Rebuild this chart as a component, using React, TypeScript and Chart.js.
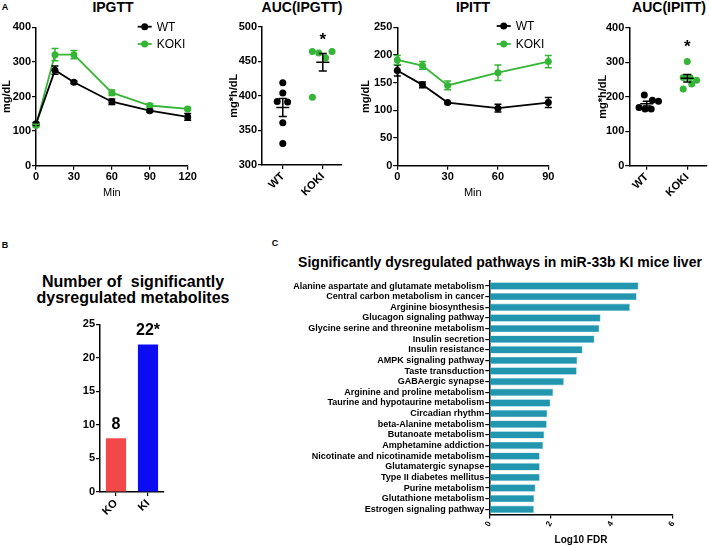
import React, { useEffect, useRef } from "react";
import { Chart, registerables } from "chart.js";
Chart.register(...registerables);

const FONT = '"Liberation Sans", Arial, Helvetica, sans-serif';
const BLACK = "#000000";
const GREEN = "#35b535";
const RED = "#f24848";
const BLUE = "#0c0cf2";
const TEAL = "#2196ae";

// ---------- Data ----------
const gttTimes = [0, 15, 30, 60, 90, 120];
const gttWT = [121, 276, 241, 185, 159, 141];
const gttWTErr = [4, 12, 4, 8, 4, 10];
const gttKOKI = [116, 321, 321, 211, 174, 164];
const gttKOKIErr = [4, 18, 12, 8, 5, 4];

const ittTimes = [0, 15, 30, 60, 90];
const ittWT = [172, 146, 114, 104, 114];
const ittWTErr = [10, 5, 2, 7, 9];
const ittKOKI = [191, 181, 145, 168, 188];
const ittKOKIErr = [8, 7, 8, 14, 11];

const groups = ["WT", "KOKI"];
const aucGttWT = [419, 404, 392, 391, 361, 331];
const aucGttWTJitter = [0, 0, -0.14, 0.12, 0, 0];
const aucGttKOKI = [464, 462, 455, 464, 398];
const aucGttKOKIJitter = [-0.26, -0.1, 0.07, 0.23, -0.26];
const aucIttWT = [205, 169, 164, 190, 187, 164];
const aucIttWTJitter = [-0.06, -0.19, -0.04, 0.14, 0.29, 0.11];
const aucIttKOKI = [302, 256, 256, 248, 237, 222];
const aucIttKOKIJitter = [0, -0.1, 0.07, 0.23, 0.11, -0.1];
const aucGttStar = 488;
const aucIttStar = 359;

const metCategories = ["KO", "KI"];
const metCounts = [8, 22];
const metSignificant = [false, true];

const pathways = [
  "Alanine aspartate and glutamate metabolism",
  "Central carbon metabolism in cancer",
  "Arginine biosynthesis",
  "Glucagon signaling pathway",
  "Glycine serine and threonine metabolism",
  "Insulin secretion",
  "Insulin resistance",
  "AMPK signaling pathway",
  "Taste transduction",
  "GABAergic synapse",
  "Arginine and proline metabolism",
  "Taurine and hypotaurine metabolism",
  "Circadian rhythm",
  "beta-Alanine metabolism",
  "Butanoate metabolism",
  "Amphetamine addiction",
  "Nicotinate and nicotinamide metabolism",
  "Glutamatergic synapse",
  "Type II diabetes mellitus",
  "Purine metabolism",
  "Glutathione metabolism",
  "Estrogen signaling pathway",
];
const log10FDR = [4.88, 4.82, 4.6, 3.64, 3.6, 3.44, 3.05, 2.88, 2.86, 2.44, 2.09, 2.0, 1.9, 1.88, 1.8, 1.76, 1.65, 1.65, 1.65, 1.51, 1.47, 1.46];

// ---------- Layout helper ----------
function frame(cl: number, ct: number, cr: number, cb: number, L: number, T: number, R: number, B: number) {
  return {
    box: { left: cl, top: ct, width: cr - cl, height: cb - ct },
    padding: { left: 0, top: T - ct, right: cr - R, bottom: 0 },
    yWidth: L - cl,
    xHeight: cb - B,
  };
}

const axisCommon = (size: number) => ({
  border: { display: true, color: BLACK, width: 1.5 },
  grid: { display: true, drawOnChartArea: false, drawTicks: true, tickLength: 4, color: BLACK, lineWidth: 1.2, offset: false },
});
const tickFont = (size: number) => ({ family: FONT, size, weight: "bold" as const });

// ---------- Plugins ----------
const errorBarPlugin = {
  id: "errorBars",
  afterDatasetsDraw(chart: any) {
    const ctx = chart.ctx;
    chart.data.datasets.forEach((ds: any, i: number) => {
      if (!ds.errors) return;
      const meta = chart.getDatasetMeta(i);
      const ys = chart.scales[meta.yAxisID];
      ctx.save();
      ctx.strokeStyle = ds.borderColor;
      ctx.lineWidth = 1.5;
      meta.data.forEach((el: any, j: number) => {
        const v = ds.data[j].y;
        const e = ds.errors[j];
        const y1 = ys.getPixelForValue(v + e);
        const y2 = ys.getPixelForValue(v - e);
        ctx.beginPath();
        ctx.moveTo(el.x, y1);
        ctx.lineTo(el.x, y2);
        ctx.moveTo(el.x - 3.5, y1);
        ctx.lineTo(el.x + 3.5, y1);
        ctx.moveTo(el.x - 3.5, y2);
        ctx.lineTo(el.x + 3.5, y2);
        ctx.stroke();
      });
      ctx.restore();
    });
  },
};

const inlineLegendPlugin = {
  id: "inlineLegend",
  afterDraw(chart: any, _a: any, opts: any) {
    const { ctx, chartArea } = chart;
    chart.data.datasets.forEach((ds: any, i: number) => {
      const x = chartArea.left + opts.dx;
      const y = chartArea.top + opts.dy + i * opts.rowGap;
      ctx.save();
      ctx.strokeStyle = ds.borderColor;
      ctx.lineWidth = 1.8;
      ctx.beginPath();
      ctx.moveTo(x, y);
      ctx.lineTo(x + 14, y);
      ctx.stroke();
      ctx.fillStyle = ds.borderColor;
      ctx.beginPath();
      ctx.arc(x + 7, y, 3.5, 0, Math.PI * 2);
      ctx.fill();
      ctx.fillStyle = BLACK;
      ctx.font = `12px ${FONT}`;
      ctx.textAlign = "left";
      ctx.textBaseline = "middle";
      ctx.fillText(ds.label, x + 19, y + 0.5);
      ctx.restore();
    });
  },
};

const meanSemPlugin = {
  id: "meanSem",
  afterDatasetsDraw(chart: any, _a: any, opts: any) {
    const { ctx } = chart;
    const xs = chart.scales.x;
    const ys = chart.scales.y;
    ctx.save();
    ctx.strokeStyle = BLACK;
    ctx.lineWidth = 1.5;
    chart.data.datasets.forEach((ds: any) => {
      const vals = ds.data.map((p: any) => p.y);
      const n = vals.length;
      const mean = vals.reduce((a: number, b: number) => a + b, 0) / n;
      const sd = Math.sqrt(vals.reduce((a: number, b: number) => a + (b - mean) ** 2, 0) / (n - 1));
      const sem = sd / Math.sqrt(n);
      const cx = xs.getPixelForValue(ds.group);
      const ym = ys.getPixelForValue(mean);
      const y1 = ys.getPixelForValue(mean + sem);
      const y2 = ys.getPixelForValue(mean - sem);
      ctx.beginPath();
      ctx.moveTo(cx - 6.5, ym);
      ctx.lineTo(cx + 6.5, ym);
      ctx.moveTo(cx, y1);
      ctx.lineTo(cx, y2);
      ctx.moveTo(cx - 4, y1);
      ctx.lineTo(cx + 4, y1);
      ctx.moveTo(cx - 4, y2);
      ctx.lineTo(cx + 4, y2);
      ctx.stroke();
    });
    if (opts && opts.star != null) {
      const size = 17;
      ctx.fillStyle = BLACK;
      ctx.font = `bold ${size}px ${FONT}`;
      ctx.textAlign = "center";
      ctx.textBaseline = "alphabetic";
      ctx.fillText("*", xs.getPixelForValue(opts.starGroup), ys.getPixelForValue(opts.star) + 0.58 * size);
    }
    ctx.restore();
  },
};

const barLabelPlugin = {
  id: "barLabels",
  afterDatasetsDraw(chart: any) {
    const { ctx } = chart;
    const meta = chart.getDatasetMeta(0);
    const ds = chart.data.datasets[0];
    ctx.save();
    ctx.fillStyle = BLACK;
    ctx.font = `bold 16px ${FONT}`;
    ctx.textAlign = "center";
    ctx.textBaseline = "alphabetic";
    meta.data.forEach((el: any, i: number) => {
      const txt = String(ds.data[i]) + (ds.significant[i] ? "*" : "");
      ctx.fillText(txt, el.x, el.y - 9);
    });
    ctx.restore();
  },
};

// ---------- Configs ----------
function lineConfig(f: any, times: number[], wt: number[], wtErr: number[], koki: number[], kokiErr: number[], xMax: number, yMax: number, yStep: number, legend: any) {
  const mk = (label: string, color: string, vals: number[], errs: number[]) => ({
    label,
    data: times.map((t, i) => ({ x: t, y: vals[i] })),
    errors: errs,
    borderColor: color,
    backgroundColor: color,
    pointBackgroundColor: color,
    pointBorderColor: color,
    pointRadius: 3.5,
    pointBorderWidth: 0,
    borderWidth: 1.8,
    tension: 0,
    clip: false,
  });
  return {
    type: "line",
    data: { datasets: [mk("WT", BLACK, wt, wtErr), mk("KOKI", GREEN, koki, kokiErr)] },
    options: {
      responsive: false,
      animation: false,
      layout: { padding: f.padding, autoPadding: false },
      plugins: { legend: { display: false }, tooltip: { enabled: false }, inlineLegend: legend },
      scales: {
        x: {
          type: "linear",
          min: 0,
          max: xMax,
          ...axisCommon(11),
          ticks: { stepSize: 30, color: BLACK, font: tickFont(11), padding: 1, maxRotation: 0 },
          title: { display: true, text: "Min", color: BLACK, font: { family: FONT, size: 11 }, padding: 0 },
          afterFit: (s: any) => { s.height = f.xHeight; },
        },
        y: {
          type: "linear",
          min: 0,
          max: yMax,
          ...axisCommon(11),
          ticks: { stepSize: yStep, color: BLACK, font: tickFont(11), padding: 1 },
          title: { display: true, text: "mg/dL", color: BLACK, font: tickFont(11), padding: 0 },
          afterFit: (s: any) => { s.width = f.yWidth; },
        },
      },
    },
    plugins: [errorBarPlugin, inlineLegendPlugin],
  };
}

function aucConfig(f: any, wt: number[], wtJ: number[], koki: number[], kokiJ: number[], yMin: number, yMax: number, yStep: number, xMin: number, xMax: number, star: number) {
  const mk = (label: string, color: string, group: number, vals: number[], jit: number[]) => ({
    label,
    group,
    data: vals.map((v, i) => ({ x: group + jit[i], y: v })),
    backgroundColor: color,
    borderColor: color,
    pointRadius: 3.5,
    pointBorderWidth: 0,
    clip: false,
  });
  return {
    type: "scatter",
    data: { datasets: [mk("WT", BLACK, 0, wt, wtJ), mk("KOKI", GREEN, 1, koki, kokiJ)] },
    options: {
      responsive: false,
      animation: false,
      layout: { padding: f.padding, autoPadding: false },
      plugins: { legend: { display: false }, tooltip: { enabled: false }, meanSem: { star, starGroup: 1 } },
      scales: {
        x: {
          type: "linear",
          min: xMin,
          max: xMax,
          ...axisCommon(11),
          afterBuildTicks: (s: any) => { s.ticks = groups.map((_, i) => ({ value: i })); },
          ticks: { color: BLACK, font: tickFont(11), padding: 1, minRotation: 45, maxRotation: 45, callback: (v: any) => groups[v] },
          afterFit: (s: any) => { s.height = f.xHeight; },
        },
        y: {
          type: "linear",
          min: yMin,
          max: yMax,
          ...axisCommon(11),
          ticks: { stepSize: yStep, color: BLACK, font: tickFont(11), padding: 1 },
          title: { display: true, text: "mg*h/dL", color: BLACK, font: tickFont(11), padding: 0 },
          afterFit: (s: any) => { s.width = f.yWidth; },
        },
      },
    },
    plugins: [meanSemPlugin],
  };
}

function metConfig(f: any) {
  return {
    type: "bar",
    data: {
      labels: metCategories,
      datasets: [{ data: metCounts, significant: metSignificant, backgroundColor: [RED, BLUE], barPercentage: 0.63, categoryPercentage: 1 }],
    },
    options: {
      responsive: false,
      animation: false,
      layout: { padding: f.padding, autoPadding: false },
      plugins: { legend: { display: false }, tooltip: { enabled: false } },
      scales: {
        x: {
          ...axisCommon(11),
          ticks: { color: BLACK, font: tickFont(11), padding: 1, minRotation: 45, maxRotation: 45 },
          afterFit: (s: any) => { s.height = f.xHeight; },
        },
        y: {
          min: 0,
          max: 25,
          ...axisCommon(11),
          ticks: { stepSize: 5, color: BLACK, font: tickFont(11), padding: 1 },
          afterFit: (s: any) => { s.width = f.yWidth; },
        },
      },
    },
    plugins: [barLabelPlugin],
  };
}

function pathwayConfig(f: any) {
  return {
    type: "bar",
    data: {
      labels: pathways,
      datasets: [{ data: log10FDR, backgroundColor: TEAL, borderColor: "#7cc6d6", borderWidth: 0.6, barPercentage: 0.7, categoryPercentage: 1 }],
    },
    options: {
      indexAxis: "y",
      responsive: false,
      animation: false,
      layout: { padding: f.padding, autoPadding: false },
      plugins: { legend: { display: false }, tooltip: { enabled: false } },
      scales: {
        x: {
          type: "linear",
          min: 0,
          max: 6,
          ...axisCommon(8),
          ticks: { stepSize: 2, color: BLACK, font: tickFont(8), padding: 1, minRotation: 60, maxRotation: 60 },
          title: { display: true, text: "Log10 FDR", color: BLACK, font: tickFont(10), padding: 0 },
          afterFit: (s: any) => { s.height = f.xHeight; },
        },
        y: {
          ...axisCommon(9),
          ticks: { color: BLACK, font: tickFont(9), padding: 1, autoSkip: false },
          afterFit: (s: any) => { s.width = f.yWidth; },
        },
      },
    },
  };
}

// ---------- Components ----------
function ChartCanvas({ f, make }: { f: any; make: () => any }) {
  const ref = useRef<HTMLCanvasElement>(null);
  useEffect(() => {
    const chart = new Chart(ref.current as HTMLCanvasElement, make() as any);
    return () => chart.destroy();
  }, []);
  const b = f.box;
  return (
    <canvas
      ref={ref}
      width={b.width}
      height={b.height}
      style={{ position: "absolute", left: b.left, top: b.top, width: b.width, height: b.height }}
    />
  );
}

function Label({ x, y, size, children, weight = "bold" }: any) {
  return (
    <div
      style={{
        position: "absolute",
        left: x,
        top: y,
        transform: "translate(-50%, -50%)",
        fontFamily: FONT,
        fontSize: size,
        fontWeight: weight,
        lineHeight: 1,
        whiteSpace: "nowrap",
        color: BLACK,
      }}
    >
      {children}
    </div>
  );
}

const fGtt = frame(0, 15, 200, 200, 36, 27.3, 187.7, 165.7);
const fAucGtt = frame(227, 15, 352, 205, 262, 26.7, 342, 165);
const fItt = frame(359, 15, 560, 200, 397.3, 27.3, 548.3, 165.7);
const fAucItt = frame(596, 15, 716, 205, 629.3, 27.7, 706.7, 165.7);
const fMet = frame(70, 310, 180, 530, 100, 324.3, 164, 492);
const fPath = frame(270, 272, 690, 546, 489.3, 280.7, 672.7, 514.6);

export default function App() {
  return (
    <div style={{ position: "absolute", left: 0, top: 0, width: 709, height: 546, overflow: "hidden", background: "#fff" }}>
      <ChartCanvas f={fGtt} make={() => lineConfig(fGtt, gttTimes, gttWT, gttWTErr, gttKOKI, gttKOKIErr, 120, 400, 100, { dx: 101.7, dy: -0.6, rowGap: 17.3 })} />
      <ChartCanvas f={fAucGtt} make={() => aucConfig(fAucGtt, aucGttWT, aucGttWTJitter, aucGttKOKI, aucGttKOKIJitter, 300, 500, 50, -0.52, 1.48, aucGttStar)} />
      <ChartCanvas f={fItt} make={() => lineConfig(fItt, ittTimes, ittWT, ittWTErr, ittKOKI, ittKOKIErr, 90, 250, 50, { dx: 99.4, dy: -1.3, rowGap: 18 })} />
      <ChartCanvas f={fAucItt} make={() => aucConfig(fAucItt, aucIttWT, aucIttWTJitter, aucIttKOKI, aucIttKOKIJitter, 0, 400, 100, -0.43, 1.48, aucIttStar)} />
      <ChartCanvas f={fMet} make={() => metConfig(fMet)} />
      <ChartCanvas f={fPath} make={() => pathwayConfig(fPath)} />

      <Label x={5} y={6.5} size={9}>A</Label>
      <Label x={113} y={6.7} size={14}>IPGTT</Label>
      <Label x={302} y={6.7} size={14}>AUC(IPGTT)</Label>
      <Label x={473} y={6.7} size={14}>IPITT</Label>
      <Label x={669} y={6.7} size={14}>AUC(IPITT)</Label>

      <Label x={5} y={245} size={9}>B</Label>
      <Label x={133} y={281.7} size={16}>Number of&nbsp; significantly</Label>
      <Label x={133} y={298.3} size={16}>dysregulated metabolites</Label>

      <Label x={275} y={243.3} size={9}>C</Label>
      <Label x={500} y={262} size={14}>Significantly dysregulated pathways in miR-33b KI mice liver</Label>
    </div>
  );
}
